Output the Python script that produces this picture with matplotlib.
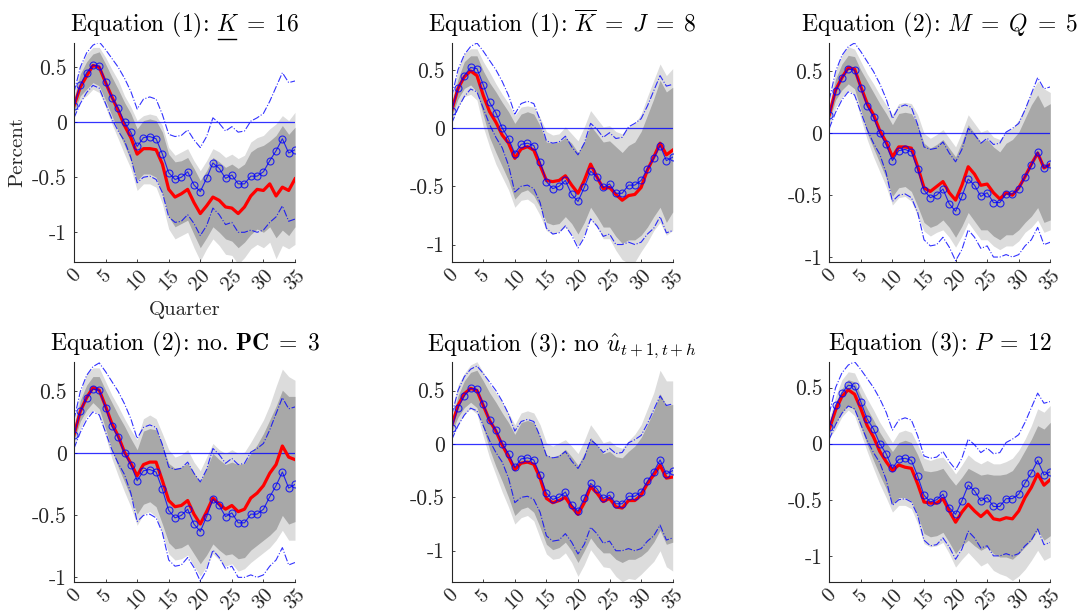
import numpy as np
import matplotlib
matplotlib.use('Agg')
import matplotlib.pyplot as plt
from matplotlib.lines import Line2D

plt.rcParams['font.family'] = 'serif'
plt.rcParams['font.serif'] = ['cmr10']
plt.rcParams['mathtext.fontset'] = 'cm'
plt.rcParams['axes.unicode_minus'] = False

horizon = np.arange(36)

# baseline (blue circles) and its bounds (dash-dot), same in every panel
base_irf = [0.15, 0.34, 0.45, 0.52, 0.51, 0.37, 0.22, 0.13, 0.00, -0.09, -0.22, -0.14, -0.13, -0.15, -0.29, -0.46, -0.52, -0.50,
            -0.45, -0.57, -0.63, -0.51, -0.37, -0.42, -0.51, -0.48, -0.56, -0.56, -0.49, -0.49, -0.45, -0.35, -0.26, -0.15, -0.28, -0.25]
base_hi = [0.27, 0.50, 0.63, 0.70, 0.73, 0.66, 0.58, 0.50, 0.40, 0.28, 0.12, 0.21, 0.23, 0.21, 0.07, -0.11, -0.13, -0.12,
           -0.07, -0.16, -0.23, -0.13, 0.04, -0.01, -0.08, -0.04, -0.09, -0.08, 0.01, 0.04, 0.08, 0.19, 0.32, 0.45, 0.36, 0.375]
base_lo = [0.04, 0.17, 0.27, 0.335, 0.31, 0.17, 0.03, -0.08, -0.17, -0.32, -0.55, -0.50, -0.49, -0.52, -0.64, -0.86, -0.91, -0.90,
           -0.84, -0.92, -1.03, -0.94, -0.78, -0.84, -0.93, -0.91, -1.00, -1.00, -0.98, -1.00, -0.98, -0.91, -0.86, -0.76, -0.90, -0.88]

# panel 1: K = 16
k16_irf = [0.15, 0.32, 0.42, 0.515, 0.50, 0.36, 0.23, 0.105, -0.03, -0.14, -0.29, -0.24, -0.24, -0.25, -0.38, -0.61, -0.68, -0.65,
           -0.61, -0.73, -0.83, -0.76, -0.68, -0.71, -0.77, -0.78, -0.83, -0.77, -0.67, -0.61, -0.62, -0.56, -0.67, -0.59, -0.62, -0.515]
k16_hi90 = [0.25, 0.50, 0.62, 0.68, 0.68, 0.59, 0.48, 0.38, 0.24, 0.14, 0.015, 0.06, 0.075, 0.06, -0.03, -0.23, -0.30, -0.27,
            -0.24, -0.35, -0.44, -0.35, -0.24, -0.27, -0.32, -0.29, -0.33, -0.30, -0.18, -0.14, -0.12, -0.06, -0.015, 0.06, 0.015, 0.09]
k16_hi68 = [0.21, 0.44, 0.55, 0.62, 0.64, 0.53, 0.41, 0.30, 0.18, 0.08, -0.06, 0.015, 0.03, 0.015, -0.09, -0.29, -0.36, -0.35,
            -0.32, -0.42, -0.53, -0.44, -0.32, -0.36, -0.41, -0.38, -0.42, -0.38, -0.27, -0.23, -0.21, -0.17, -0.12, -0.03, -0.11, -0.045]
k16_lo68 = [0.10, 0.24, 0.30, 0.36, 0.33, 0.20, 0.06, -0.08, -0.21, -0.35, -0.53, -0.47, -0.47, -0.50, -0.65, -0.86, -0.95, -0.92,
            -0.89, -1.02, -1.14, -1.05, -0.95, -1.00, -1.06, -1.08, -1.14, -1.09, -1.02, -0.97, -1.00, -0.95, -1.05, -0.98, -1.03, -0.95]
k16_lo90 = [0.06, 0.20, 0.24, 0.30, 0.27, 0.14, -0.015, -0.15, -0.29, -0.42, -0.62, -0.56, -0.56, -0.59, -0.74, -0.97, -1.06, -1.03,
            -1.00, -1.14, -1.26, -1.15, -1.06, -1.12, -1.20, -1.21, -1.29, -1.23, -1.15, -1.11, -1.14, -1.09, -1.24, -1.12, -1.15, -1.11]

# panel 2: Kbar = J = 8
kj8_irf = [0.15, 0.34, 0.44, 0.49, 0.45, 0.28, 0.14, 0.05, -0.06, -0.13, -0.26, -0.18, -0.16, -0.19, -0.32, -0.45, -0.46, -0.45,
           -0.41, -0.49, -0.56, -0.45, -0.31, -0.42, -0.52, -0.51, -0.57, -0.62, -0.58, -0.57, -0.51, -0.36, -0.25, -0.13, -0.23, -0.19]
kj8_hi90 = [0.25, 0.50, 0.64, 0.68, 0.68, 0.57, 0.48, 0.38, 0.29, 0.21, 0.11, 0.18, 0.19, 0.18, 0.09, -0.03, -0.06, -0.05,
            0.01, -0.05, -0.11, 0.01, 0.15, 0.08, 0.01, 0.02, -0.03, -0.05, 0.01, 0.04, 0.12, 0.27, 0.41, 0.55, 0.45, 0.51]
kj8_hi68 = [0.21, 0.42, 0.57, 0.62, 0.62, 0.49, 0.39, 0.31, 0.22, 0.14, 0.04, 0.12, 0.14, 0.12, 0.02, -0.12, -0.13, -0.12,
            -0.08, -0.13, -0.21, -0.12, 0.02, -0.05, -0.12, -0.11, -0.16, -0.21, -0.15, -0.12, -0.03, 0.11, 0.25, 0.41, 0.31, 0.35]
kj8_lo68 = [0.10, 0.25, 0.34, 0.37, 0.31, 0.11, -0.08, -0.21, -0.33, -0.45, -0.61, -0.55, -0.53, -0.58, -0.68, -0.81, -0.83, -0.82,
            -0.76, -0.82, -0.91, -0.81, -0.68, -0.76, -0.85, -0.85, -0.93, -0.99, -0.96, -0.96, -0.92, -0.85, -0.76, -0.68, -0.81, -0.72]
kj8_lo90 = [0.06, 0.18, 0.27, 0.29, 0.24, 0.01, -0.16, -0.31, -0.42, -0.53, -0.68, -0.62, -0.61, -0.65, -0.75, -0.88, -0.91, -0.89,
            -0.85, -0.91, -1.01, -0.91, -0.78, -0.85, -0.95, -0.95, -1.05, -1.13, -1.16, -1.15, -1.06, -0.98, -0.88, -0.81, -0.92, -0.88]

# panel 3: M = Q = 5
mq5_irf = [0.15, 0.35, 0.45, 0.53, 0.52, 0.375, 0.24, 0.15, 0.02, -0.07, -0.19, -0.11, -0.11, -0.12, -0.27, -0.44, -0.47, -0.43,
           -0.39, -0.48, -0.54, -0.42, -0.27, -0.33, -0.42, -0.41, -0.48, -0.53, -0.48, -0.50, -0.44, -0.35, -0.25, -0.16, -0.28, -0.25]
mq5_hi90 = [0.25, 0.50, 0.63, 0.70, 0.68, 0.58, 0.48, 0.40, 0.31, 0.23, 0.15, 0.24, 0.25, 0.24, 0.15, 0.00, -0.04, -0.01,
            0.03, -0.04, -0.11, 0.01, 0.15, 0.08, 0.01, 0.03, -0.03, -0.05, 0.01, 0.04, 0.11, 0.21, 0.33, 0.42, 0.36, 0.33]
mq5_hi68 = [0.21, 0.44, 0.56, 0.63, 0.62, 0.51, 0.42, 0.33, 0.24, 0.16, 0.07, 0.16, 0.17, 0.16, 0.07, -0.08, -0.12, -0.09,
            -0.05, -0.12, -0.19, -0.07, 0.07, 0.00, -0.07, -0.05, -0.11, -0.15, -0.08, -0.05, 0.01, 0.12, 0.23, 0.31, 0.21, 0.24]
mq5_lo68 = [0.10, 0.27, 0.35, 0.40, 0.36, 0.19, 0.00, -0.12, -0.24, -0.36, -0.51, -0.44, -0.43, -0.47, -0.59, -0.72, -0.76, -0.74,
            -0.70, -0.76, -0.84, -0.75, -0.64, -0.71, -0.78, -0.78, -0.83, -0.86, -0.82, -0.82, -0.78, -0.72, -0.67, -0.60, -0.72, -0.70]
mq5_lo90 = [0.06, 0.21, 0.29, 0.35, 0.31, 0.12, -0.05, -0.19, -0.31, -0.43, -0.58, -0.52, -0.51, -0.55, -0.67, -0.79, -0.83, -0.80,
            -0.78, -0.84, -0.92, -0.83, -0.72, -0.79, -0.86, -0.86, -0.91, -0.94, -0.91, -0.91, -0.87, -0.80, -0.76, -0.70, -0.80, -0.78]

# panel 4: no. PC = 3
pc3_irf = [0.15, 0.34, 0.45, 0.53, 0.51, 0.38, 0.24, 0.14, 0.01, -0.08, -0.18, -0.09, -0.07, -0.07, -0.22, -0.38, -0.43, -0.42,
           -0.38, -0.49, -0.57, -0.47, -0.36, -0.41, -0.45, -0.42, -0.47, -0.45, -0.36, -0.32, -0.26, -0.16, -0.09, 0.06, -0.03, -0.05]
pc3_hi90 = [0.25, 0.49, 0.64, 0.69, 0.69, 0.58, 0.47, 0.38, 0.28, 0.19, 0.11, 0.28, 0.31, 0.28, 0.16, 0.03, -0.03, -0.01,
            0.03, -0.07, -0.14, -0.03, 0.08, 0.03, 0.00, 0.03, 0.00, 0.01, 0.09, 0.18, 0.27, 0.39, 0.54, 0.68, 0.62, 0.59]
pc3_hi68 = [0.21, 0.43, 0.55, 0.62, 0.62, 0.51, 0.41, 0.31, 0.22, 0.12, 0.03, 0.18, 0.20, 0.19, 0.07, -0.08, -0.12, -0.11,
            -0.08, -0.16, -0.23, -0.12, 0.00, -0.05, -0.09, -0.07, -0.09, -0.08, 0.00, 0.07, 0.16, 0.27, 0.38, 0.51, 0.46, 0.46]
pc3_lo68 = [0.10, 0.26, 0.35, 0.41, 0.36, 0.20, 0.03, -0.11, -0.23, -0.35, -0.49, -0.41, -0.39, -0.43, -0.57, -0.72, -0.77, -0.76,
            -0.73, -0.81, -0.89, -0.82, -0.73, -0.78, -0.82, -0.81, -0.85, -0.84, -0.78, -0.74, -0.70, -0.66, -0.61, -0.50, -0.57, -0.55]
pc3_lo90 = [0.06, 0.20, 0.30, 0.35, 0.31, 0.14, -0.04, -0.18, -0.31, -0.43, -0.58, -0.49, -0.47, -0.51, -0.65, -0.81, -0.86, -0.85,
            -0.82, -0.91, -0.99, -0.91, -0.81, -0.86, -0.91, -0.89, -0.95, -0.93, -0.88, -0.84, -0.80, -0.76, -0.70, -0.62, -0.70, -0.70]

# panel 5: no u-hat
nou_irf = [0.17, 0.36, 0.47, 0.52, 0.50, 0.36, 0.22, 0.12, -0.01, -0.12, -0.24, -0.18, -0.17, -0.19, -0.32, -0.51, -0.55, -0.53,
           -0.50, -0.59, -0.66, -0.55, -0.40, -0.46, -0.54, -0.51, -0.59, -0.60, -0.53, -0.53, -0.48, -0.37, -0.29, -0.20, -0.32, -0.31]
nou_hi90 = [0.27, 0.55, 0.66, 0.74, 0.77, 0.67, 0.56, 0.48, 0.39, 0.29, 0.18, 0.29, 0.31, 0.29, 0.18, 0.01, -0.02, 0.01,
            0.04, -0.02, -0.09, 0.03, 0.18, 0.10, 0.01, 0.03, -0.02, -0.04, 0.03, 0.09, 0.18, 0.33, 0.48, 0.69, 0.59, 0.59]
nou_hi68 = [0.22, 0.45, 0.59, 0.67, 0.69, 0.59, 0.48, 0.39, 0.29, 0.20, 0.09, 0.20, 0.22, 0.20, 0.07, -0.10, -0.13, -0.10,
            -0.05, -0.12, -0.20, -0.09, 0.06, -0.01, -0.09, -0.07, -0.12, -0.13, -0.07, -0.02, 0.06, 0.18, 0.31, 0.47, 0.36, 0.37]
nou_lo68 = [0.11, 0.25, 0.34, 0.39, 0.34, 0.15, -0.05, -0.21, -0.35, -0.50, -0.67, -0.61, -0.59, -0.64, -0.78, -0.94, -0.99, -0.97,
            -0.92, -1.00, -1.11, -1.00, -0.88, -0.96, -1.02, -1.02, -1.08, -1.11, -1.08, -1.08, -1.05, -1.00, -0.92, -0.81, -0.94, -0.92]
nou_lo90 = [0.06, 0.18, 0.28, 0.33, 0.28, 0.07, -0.13, -0.29, -0.45, -0.59, -0.75, -0.69, -0.67, -0.72, -0.88, -1.03, -1.08, -1.07,
            -1.02, -1.11, -1.24, -1.13, -0.99, -1.07, -1.15, -1.16, -1.24, -1.29, -1.26, -1.27, -1.22, -1.16, -1.10, -1.00, -1.15, -1.19]

# panel 6: P = 12
p12_irf = [0.13, 0.30, 0.42, 0.48, 0.44, 0.31, 0.16, 0.06, -0.07, -0.16, -0.24, -0.19, -0.21, -0.22, -0.36, -0.52, -0.53, -0.53,
           -0.49, -0.60, -0.70, -0.61, -0.54, -0.60, -0.65, -0.60, -0.67, -0.68, -0.66, -0.67, -0.60, -0.48, -0.39, -0.27, -0.37, -0.32]
p12_hi90 = [0.22, 0.42, 0.57, 0.64, 0.63, 0.51, 0.40, 0.30, 0.19, 0.10, 0.01, 0.10, 0.12, 0.10, -0.01, -0.13, -0.15, -0.13,
            -0.12, -0.19, -0.27, -0.19, -0.10, -0.15, -0.18, -0.15, -0.18, -0.18, -0.16, -0.13, -0.06, 0.04, 0.16, 0.31, 0.28, 0.34]
p12_hi68 = [0.18, 0.36, 0.49, 0.57, 0.55, 0.43, 0.31, 0.21, 0.10, 0.01, -0.07, 0.01, 0.03, 0.01, -0.10, -0.24, -0.25, -0.24,
            -0.22, -0.30, -0.37, -0.30, -0.22, -0.25, -0.28, -0.27, -0.28, -0.28, -0.27, -0.24, -0.16, -0.06, 0.04, 0.16, 0.13, 0.19]
p12_lo68 = [0.09, 0.18, 0.28, 0.34, 0.30, 0.15, -0.01, -0.15, -0.28, -0.40, -0.54, -0.48, -0.48, -0.51, -0.64, -0.80, -0.83, -0.82,
            -0.79, -0.88, -0.98, -0.91, -0.86, -0.91, -0.95, -0.92, -0.98, -1.01, -1.01, -1.03, -0.98, -0.92, -0.86, -0.77, -0.86, -0.82]
p12_lo90 = [0.05, 0.13, 0.24, 0.30, 0.25, 0.09, -0.07, -0.22, -0.36, -0.48, -0.61, -0.55, -0.55, -0.58, -0.71, -0.89, -0.92, -0.91,
            -0.88, -0.98, -1.10, -1.03, -0.97, -1.03, -1.09, -1.06, -1.13, -1.16, -1.18, -1.22, -1.18, -1.12, -1.04, -0.95, -1.04, -1.01]

EQ = r'\;=\;'
titles = [r'Equation (1): $K' + EQ + r'16$',
          r'Equation (1): $\overline{K}' + EQ + 'J' + EQ + r'8$',
          r'Equation (2): $M' + EQ + 'Q' + EQ + r'5$',
          r'Equation (2): no. $\mathbf{PC}' + EQ + r'3$',
          r'Equation (3): no $\hat{u}_{t+1,t+h}$',
          r'Equation (3): $P' + EQ + r'12$']
panels = [(k16_irf, k16_hi90, k16_hi68, k16_lo68, k16_lo90),
          (kj8_irf, kj8_hi90, kj8_hi68, kj8_lo68, kj8_lo90),
          (mq5_irf, mq5_hi90, mq5_hi68, mq5_lo68, mq5_lo90),
          (pc3_irf, pc3_hi90, pc3_hi68, pc3_lo68, pc3_lo90),
          (nou_irf, nou_hi90, nou_hi68, nou_lo68, nou_lo90),
          (p12_irf, p12_hi90, p12_hi68, p12_lo68, p12_lo90)]
ylims = [(-1.27, 0.72), (-1.15, 0.73), (-1.04, 0.73), (-1.035, 0.74), (-1.29, 0.77), (-1.23, 0.73)]

W, H = 1081, 614
fig = plt.figure(figsize=(W / 100, H / 100), dpi=100)
lefts = [74, 451.7, 829.3]
tops = [43, 361.7]
bottoms = [262, 581.7]
title_fs = 17

axc = '#262626'
axes = []
for i, (title, (irf, hi90, hi68, lo68, lo90)) in enumerate(zip(titles, panels)):
    r, c = divmod(i, 3)
    ax = fig.add_axes([lefts[c] / W, 1 - bottoms[r] / H, 221 / W, (bottoms[r] - tops[r]) / H])
    ax.fill_between(horizon, lo90, hi90, color='#dcdcdc', lw=0)
    ax.fill_between(horizon, lo68, hi68, color='#a8a8a8', lw=0)
    ax.axhline(0, color='blue', lw=0.9, alpha=0.8)
    ax.plot(horizon, irf, color='red', lw=2.3)
    ax.plot(horizon, base_irf, color='blue', lw=0.8, marker='o', ms=5, mfc='none', mew=0.8, alpha=0.8)
    ax.plot(horizon, base_hi, color='blue', lw=0.8, ls='-.', alpha=0.8)
    ax.plot(horizon, base_lo, color='blue', lw=0.8, ls='-.', alpha=0.8)
    ax.set_xlim(0, 35)
    ax.set_ylim(*ylims[i])
    ax.set_xticks(np.arange(0, 36, 5))
    ax.set_xticklabels([str(v) for v in range(0, 36, 5)], rotation=45)
    ax.set_yticks([-1, -0.5, 0, 0.5])
    ax.set_yticklabels(['-1', '-0.5', '0', '0.5'])
    ax.tick_params(direction='in', length=2.5, width=0.6, labelsize=15.5, colors=axc)
    ax.tick_params(axis='x', pad=3, labelsize=15)
    ax.tick_params(axis='y', pad=5)
    for s in ['top', 'right']:
        ax.spines[s].set_visible(False)
    for s in ['left', 'bottom']:
        ax.spines[s].set_color(axc)
        ax.spines[s].set_linewidth(0.8)
    ax.set_title(title, fontsize=title_fs, pad=8)
    if i == 0:
        ax.set_xlabel('Quarter', fontsize=15, color=axc, labelpad=5)
        ax.set_ylabel('Percent', fontsize=15, color=axc, labelpad=4)
    axes.append(ax)

# mathtext has no \underline, so draw the bar under K by hand
fig.canvas.draw()
renderer = fig.canvas.get_renderer()


def text_width(s):
    tmp = fig.text(0, 0, s, fontsize=title_fs)
    w = tmp.get_window_extent(renderer).width
    tmp.remove()
    return w


bb = axes[0].title.get_window_extent(renderer)
k_start = bb.x1 - text_width(r'$K' + EQ + r'16$') + 2
k_end = k_start + 0.78 * text_width(r'$K$')
y_line = bb.y0 + 1.5
fig.add_artist(Line2D([k_start / W, k_end / W], [y_line / H, y_line / H],
                      transform=fig.transFigure, color='black', lw=1.0))

fig.savefig('out.png', dpi=100)
